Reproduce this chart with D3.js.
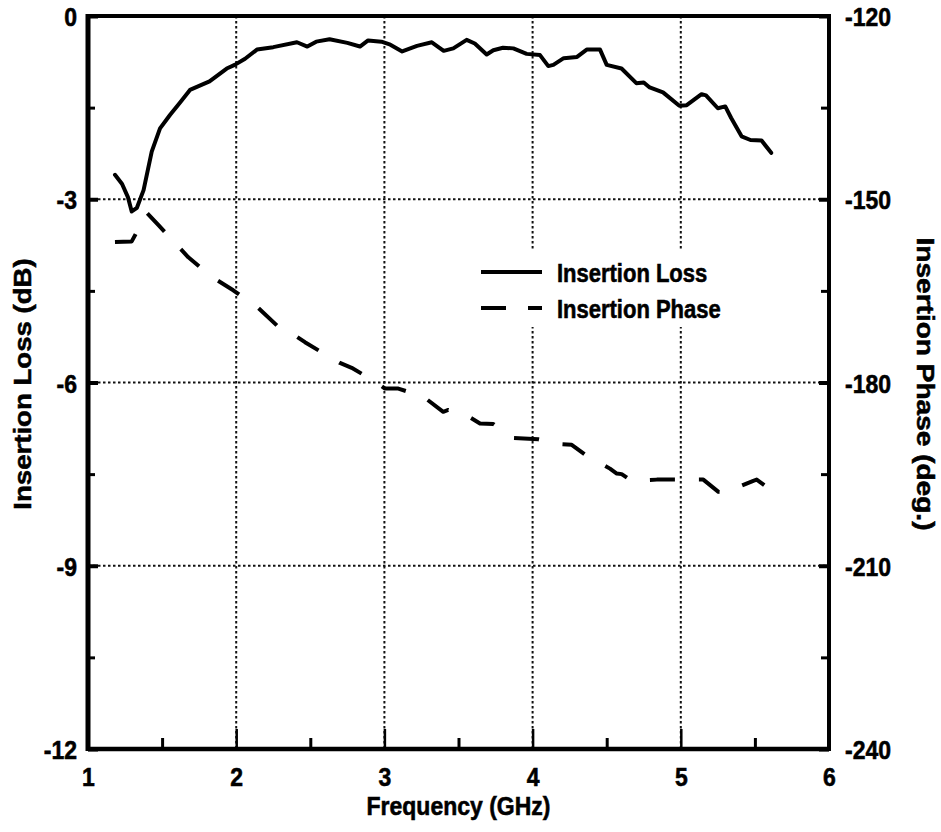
<!DOCTYPE html>
<html>
<head>
<meta charset="utf-8">
<script src="https://cdn.jsdelivr.net/npm/d3@7"></script>
<style>
  html, body { margin: 0; padding: 0; background: #fff; }
  svg { display: block; }
  text { font-family: "Liberation Sans", Arial, Helvetica, sans-serif; font-weight: bold; fill: #000; stroke: #000; stroke-width: 0.5px; }
</style>
</head>
<body>
<svg id="chart" width="941" height="832"></svg>
<script>
// ---- data ----
const freqTicks  = [1, 2, 3, 4, 5, 6];
const freqMinor  = [1.5, 2.5, 3.5, 4.5, 5.5];
const lossTicks  = [-12, -9, -6, -3, 0];
const lossMinor  = [-10.5, -7.5, -4.5, -1.5];
const phaseTicks = [-240, -210, -180, -150, -120];
const phaseMinor = [-225, -195, -165, -135];
const freqGrid   = [2, 3, 4, 5];
const lossGrid   = [-9, -6, -3];

const lossFreq = [1.182,1.23,1.27,1.295,1.33,1.375,1.43,1.486,1.553,1.62,1.688,1.82,1.936,1.99,2.06,2.14,2.25,2.41,2.48,2.54,2.63,2.75,2.835,2.89,2.98,3.04,3.12,3.22,3.32,3.40,3.465,3.555,3.61,3.69,3.735,3.80,3.87,3.96,4.05,4.106,4.14,4.21,4.30,4.365,4.455,4.50,4.60,4.70,4.75,4.79,4.88,4.99,5.04,5.14,5.17,5.25,5.30,5.34,5.41,5.47,5.545,5.61];
const lossDb   = [-2.60,-2.75,-2.97,-3.20,-3.14,-2.85,-2.22,-1.84,-1.62,-1.42,-1.21,-1.07,-0.86,-0.80,-0.70,-0.55,-0.51,-0.43,-0.50,-0.42,-0.38,-0.44,-0.50,-0.40,-0.42,-0.47,-0.58,-0.49,-0.43,-0.57,-0.53,-0.39,-0.45,-0.63,-0.56,-0.52,-0.53,-0.62,-0.64,-0.82,-0.80,-0.69,-0.67,-0.55,-0.55,-0.80,-0.86,-1.10,-1.09,-1.17,-1.25,-1.47,-1.46,-1.28,-1.30,-1.51,-1.48,-1.67,-1.97,-2.03,-2.04,-2.24];

const phaseFreq = [1.182,1.295,1.324,1.40,1.474,1.531,1.677,1.835,1.98,2.149,2.307,2.385,2.464,2.628,2.70,2.779,2.948,3.004,3.094,3.262,3.397,3.431,3.578,3.645,3.735,3.87,4.039,4.196,4.264,4.354,4.522,4.568,4.601,4.669,4.838,4.995,5.152,5.254,5.299,5.489,5.512,5.624];
const phaseDeg  = [-157.0,-156.9,-155.6,-152.3,-154.2,-155.7,-159.5,-162.7,-164.9,-167.8,-171.4,-172.1,-173.4,-175.8,-176.8,-177.6,-180.0,-181.0,-181.0,-182.3,-184.8,-184.5,-185.7,-186.7,-186.8,-189.1,-189.3,-190.1,-190.2,-191.8,-194.1,-194.9,-195.0,-196.1,-195.9,-195.9,-195.9,-197.9,-198.0,-196.1,-195.9,-197.9];

const seriesNames = ["Insertion Loss", "Insertion Phase"];

// ---- layout ----
const svg = d3.select("#chart");
const L = 88, R = 829, T = 16, B = 749;
const SY = 1.15; // vertical glyph stretch of the scanned original
const fmt = d => String(d); // plain hyphen minus, as in the original

const x  = d3.scaleLinear().domain([1, 6]).range([L, R]);
const yL = d3.scaleLinear().domain([-12, 0]).range([B, T]);
const yR = d3.scaleLinear().domain([-240, -120]).range([B, T]);

svg.append("rect").attr("width", 941).attr("height", 832).attr("fill", "#fff");

// gridlines
const grid = svg.append("g").attr("stroke", "#111").attr("stroke-width", 2).attr("stroke-dasharray", "2.5,2.5");
grid.selectAll("line.v").data(freqGrid).join("line").attr("class", "v")
  .attr("x1", d => x(d)).attr("x2", d => x(d)).attr("y1", T).attr("y2", B);
grid.selectAll("line.h").data(lossGrid).join("line").attr("class", "h")
  .attr("x1", L).attr("x2", R).attr("y1", d => yL(d)).attr("y2", d => yL(d));

// legend background
svg.append("rect").attr("x", 470).attr("y", 251).attr("width", 290).attr("height", 76).attr("fill", "#fff");

// curves
const lossData  = lossFreq.map((f, i) => [f, lossDb[i]]);
const phaseData = phaseFreq.map((f, i) => [f, phaseDeg[i]]);

svg.append("path").datum(lossData)
  .attr("fill", "none").attr("stroke", "#000").attr("stroke-width", 4)
  .attr("stroke-linejoin", "round").attr("stroke-linecap", "round")
  .attr("d", d3.line().x(d => x(d[0])).y(d => yL(d[1])).curve(d3.curveLinear));

svg.append("path").datum(phaseData)
  .attr("fill", "none").attr("stroke", "#000").attr("stroke-width", 4)
  .attr("stroke-linejoin", "round")
  .attr("stroke-dasharray", "25,24")
  .attr("d", d3.line().x(d => x(d[0])).y(d => yR(d[1])).curve(d3.curveLinear));

// frame
svg.append("line").attr("x1", L).attr("x2", L).attr("y1", T - 2).attr("y2", B + 2).attr("stroke", "#000").attr("stroke-width", 5);
svg.append("line").attr("x1", L).attr("x2", R).attr("y1", B).attr("y2", B).attr("stroke", "#000").attr("stroke-width", 4.5);
svg.append("line").attr("x1", R).attr("x2", R).attr("y1", T - 2).attr("y2", B + 2).attr("stroke", "#000").attr("stroke-width", 4);
svg.append("line").attr("x1", L).attr("x2", R).attr("y1", T).attr("y2", T).attr("stroke", "#000").attr("stroke-width", 4);

function styleAxis(g) {
  g.select(".domain").remove();
  g.attr("font-family", null).attr("font-size", null);
  g.selectAll(".tick line").attr("stroke", "#000");
}

// left axis
const gl = svg.append("g").attr("transform", `translate(${L},0)`)
  .call(d3.axisLeft(yL).tickValues(lossTicks).tickSize(-10).tickPadding(10).tickFormat(fmt));
styleAxis(gl);
gl.selectAll(".tick line").attr("stroke-width", 4);
gl.selectAll(".tick text").attr("dy", null).attr("x", -11).attr("y", 9.5 / SY)
  .attr("transform", `scale(1,${SY})`).style("font-size", "23px");

const glm = svg.append("g").attr("transform", `translate(${L},0)`)
  .call(d3.axisLeft(yL).tickValues(lossMinor).tickSize(-7).tickFormat(""));
styleAxis(glm);
glm.selectAll(".tick line").attr("stroke-width", 3);

// right axis
const gr = svg.append("g").attr("transform", `translate(${R},0)`)
  .call(d3.axisRight(yR).tickValues(phaseTicks).tickSize(-10).tickPadding(16).tickFormat(fmt));
styleAxis(gr);
gr.selectAll(".tick line").attr("stroke-width", 4);
gr.selectAll(".tick text").attr("dy", null).attr("x", 16).attr("y", 9.5 / SY)
  .attr("transform", `scale(1,${SY})`).style("font-size", "23px");

const grm = svg.append("g").attr("transform", `translate(${R},0)`)
  .call(d3.axisRight(yR).tickValues(phaseMinor).tickSize(-8).tickFormat(""));
styleAxis(grm);
grm.selectAll(".tick line").attr("stroke-width", 3);

// bottom axis
const gb = svg.append("g").attr("transform", `translate(0,${B})`)
  .call(d3.axisBottom(x).tickValues(freqTicks).tickSize(-20).tickPadding(0).tickFormat(fmt));
styleAxis(gb);
gb.selectAll(".tick line").attr("stroke-width", 2.5);
gb.selectAll(".tick text").attr("dy", null).attr("y", 37 / SY)
  .attr("transform", `scale(1,${SY})`).style("font-size", "23px");

const gbm = svg.append("g").attr("transform", `translate(0,${B})`)
  .call(d3.axisBottom(x).tickValues(freqMinor).tickSize(-11).tickFormat(""));
styleAxis(gbm);
gbm.selectAll(".tick line").attr("stroke-width", 3);

// axis titles
svg.append("text").attr("transform", `translate(${(L + R) / 2},815) scale(1,${SY})`)
  .attr("text-anchor", "middle").style("font-size", "23px").text("Frequency (GHz)");
svg.append("text").attr("transform", `translate(31,384) scale(1,1.2) rotate(-90)`)
  .attr("text-anchor", "middle").style("font-size", "23px").text("Insertion Loss (dB)");
svg.append("text").attr("transform", `translate(917,384) scale(1,1.22) rotate(90)`)
  .attr("text-anchor", "middle").style("font-size", "23px").text("Insertion Phase (deg.)");

// legend
const leg = svg.append("g");
const legRows = [
  { name: seriesNames[0], y: 272, dash: null },
  { name: seriesNames[1], y: 308, dash: "25,22" }
];
legRows.forEach(r => {
  leg.append("line").attr("x1", 481).attr("x2", 542).attr("y1", r.y).attr("y2", r.y)
    .attr("stroke", "#000").attr("stroke-width", 4).attr("stroke-dasharray", r.dash);
  leg.append("text").attr("transform", `translate(557,${r.y + 9.5}) scale(1,${SY})`)
    .style("font-size", "22px").text(r.name);
});
</script>
</body>
</html>
